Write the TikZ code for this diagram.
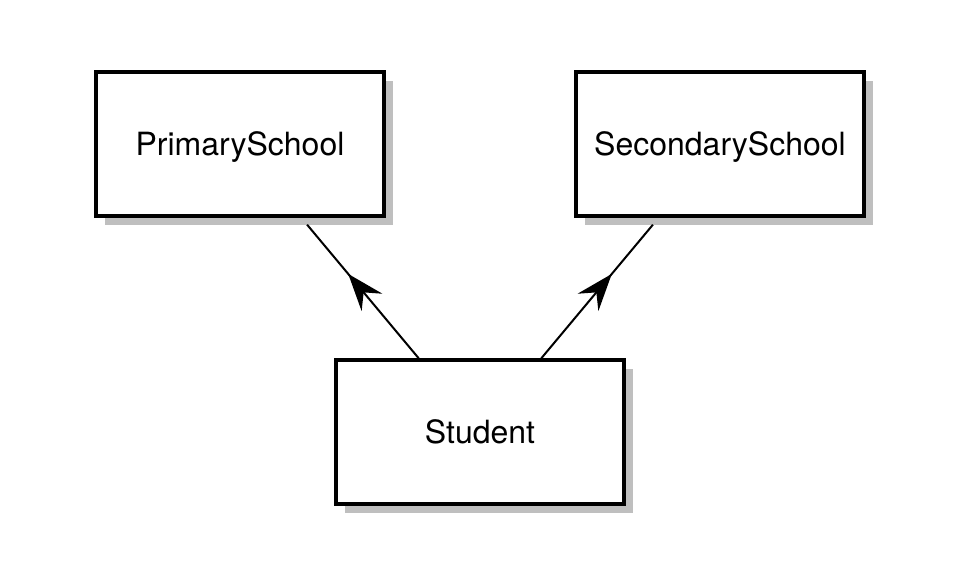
\documentclass[tikz,border=0pt]{standalone}
\usepackage{fontspec}
\setmainfont{TeX Gyre Heros}
\usetikzlibrary{shadows,arrows.meta,decorations.markings}
\def\classnode{\node[draw=black,line width=3.5pt,fill=white,minimum width=288pt,minimum height=144pt,inner sep=0pt,text height=23pt,text depth=0pt,font=\fontsize{32}{38}\selectfont,drop shadow={shadow xshift=9pt,shadow yshift=-9pt,fill=black!25,opacity=1}]}
\def\drawassoc{\draw[line width=2pt,shorten >=9pt,postaction={decorate},decoration={markings,mark=at position 0.6 with {\arrow{>}}}]}

\begin{document}
\begin{tikzpicture}[x=1pt,y=-1pt,>={Stealth[length=37pt,width=27pt,inset=13pt]}]
\useasboundingbox (0,0) rectangle (960,576);
\classnode (primary) at (240,144) {PrimarySchool};
\classnode (secondary) at (720,144) {SecondarySchool};
\classnode (student) at (480,432) {Student};
\drawassoc (student) -- (primary);
\drawassoc (student) -- (secondary);
\end{tikzpicture}
\end{document}
